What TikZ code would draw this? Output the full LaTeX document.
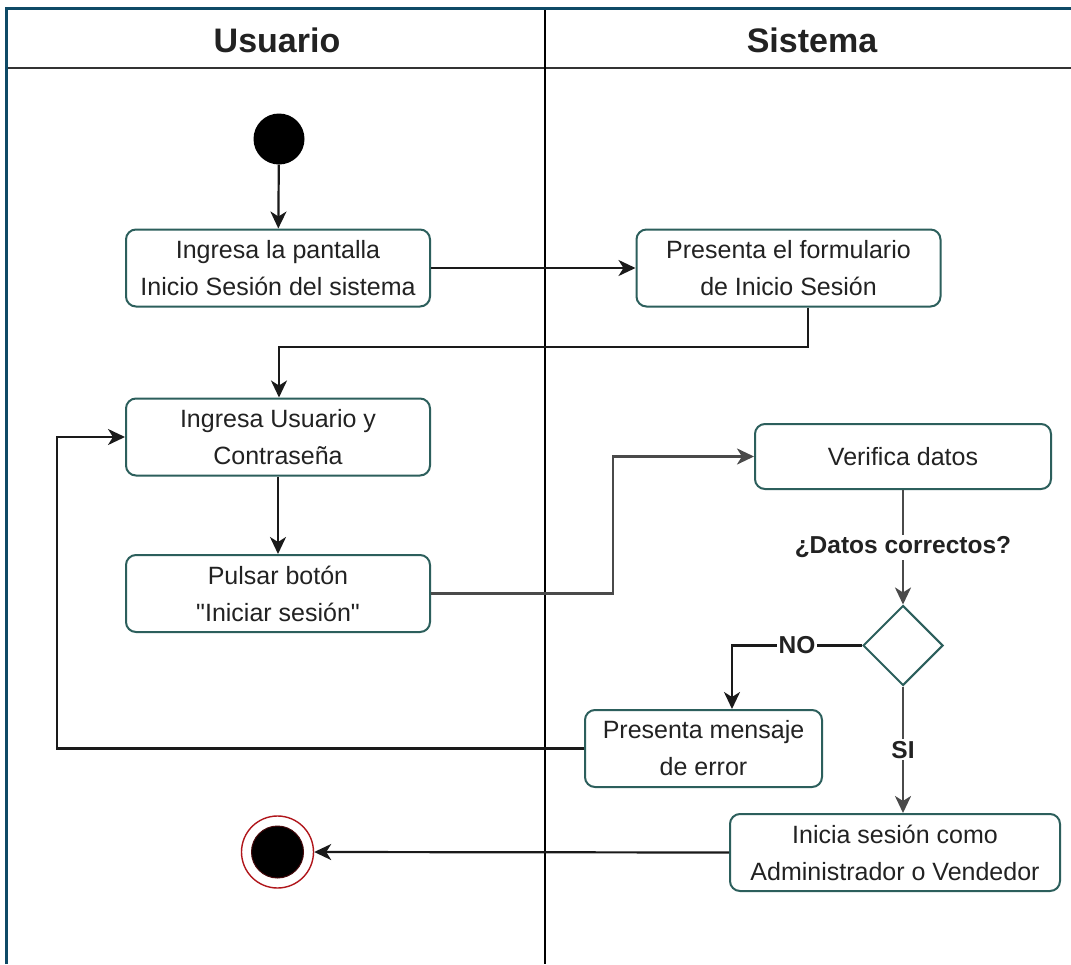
\documentclass[tikz,border=0pt]{standalone}
\usepackage{fontspec}
\setmainfont{Liberation Sans}
\usetikzlibrary{arrows.meta,shapes.geometric,positioning}
\definecolor{frameteal}{HTML}{0E4A66}
\definecolor{boxteal}{HTML}{2C5F5C}
\definecolor{inktext}{HTML}{222222}
\definecolor{wire}{HTML}{1A1A1A}
\definecolor{wiregray}{HTML}{4A4A4A}
\definecolor{endred}{HTML}{B0161B}
\tikzset{
  x=1pt, y=-1pt,
  actbox/.style={draw=boxteal, line width=2pt, rounded corners=10pt, fill=white,
    text=inktext, align=center, font=\fontsize{25}{37}\selectfont,
    minimum width=304pt, minimum height=77pt, inner sep=0pt},
  decision/.style={draw=boxteal, line width=2pt, diamond, fill=white,
    minimum width=80pt, minimum height=80pt, inner sep=0pt, aspect=1},
  flow/.style={draw=wire, line width=2.2pt,
    -{Stealth[length=17pt,width=16pt,inset=5pt]}},
  flowgray/.style={flow, draw=wiregray, line width=2.8pt},
  guard/.style={fill=white, inner sep=2pt, text=inktext,
    font=\fontsize{24.5}{28}\selectfont\bfseries},
  lanehead/.style={font=\fontsize{34}{38}\selectfont\bfseries, text=inktext},
}
\begin{document}
\begin{tikzpicture}
\useasboundingbox (0,0) rectangle (1071,964);
\fill[white] (0,0) rectangle (1071,964);

% swimlane frame
\draw[line width=2.4pt, black!80] (6,68) -- (1071,68);
\draw[line width=2pt, black] (545,8) -- (545,964);
\draw[line width=3pt, frameteal] (6,964) -- (6,8) -- (1071,8);
\node[lanehead] (laneU) at (277,40) {Usuario};
\node[lanehead] (laneS) at (812,40) {Sistema};

% initial and final states
\node[circle, fill=black, minimum size=51pt, inner sep=0pt] (start) at (279,139) {};
\node[circle, draw=endred, line width=1.4pt, fill=white, minimum size=72pt, inner sep=0pt] (stop) at (277.5,852) {};
\node[circle, fill=black, draw=endred!40!black, line width=1pt, minimum size=52pt, inner sep=0pt] (stopdot) at (277.5,852) {};

% activities
\node[actbox] (pantalla) at (278,268) {Ingresa la pantalla\\Inicio Sesión del sistema};
\node[actbox] (formulario) at (788.5,268) {Presenta el formulario\\de Inicio Sesión};
\node[actbox] (credenciales) at (278,437) {Ingresa Usuario y\\Contraseña};
\node[actbox] (boton) at (278,593.5) {Pulsar botón\\\textquotedbl Iniciar sesión\textquotedbl};
\node[actbox, minimum width=296pt, minimum height=65pt] (verifica) at (903,456.5) {Verifica datos};
\node[decision] (check) at (903,645.5) {};
\node[actbox, minimum width=237pt] (error) at (703.5,748.5) {Presenta mensaje\\de error};
\node[actbox, minimum width=330pt] (inicia) at (895,852.5) {Inicia sesión como\\Administrador o Vendedor};

% control flow
\draw[flow] (start) -- (pantalla);
\draw[flow] (pantalla) -- (formulario);
\draw[flow] (formulario.south -| 808,0) |- (279,347) -- (credenciales.north -| 279,0);
\draw[flow] (credenciales) -- (boton);
\draw[flowgray] (boton.east) -| (613,530) |- (verifica.west);
\draw[flowgray] (verifica.south -| 903,0) -- node[guard, pos=0.5] (preg) {¿Datos correctos?} (check.north);
\draw[flow] (check.west) -| node[guard, pos=0.25] (no) {NO} (error.north -| 732,0);
\draw[flowgray] (check.south) -- node[guard, pos=0.5] (si) {SI} (inicia.north -| 903,0);
\draw[flow] (error.west) -| (57,600) |- (credenciales.west);
\draw[flow] (inicia.west) -- (stop.east);
\end{tikzpicture}
\end{document}
